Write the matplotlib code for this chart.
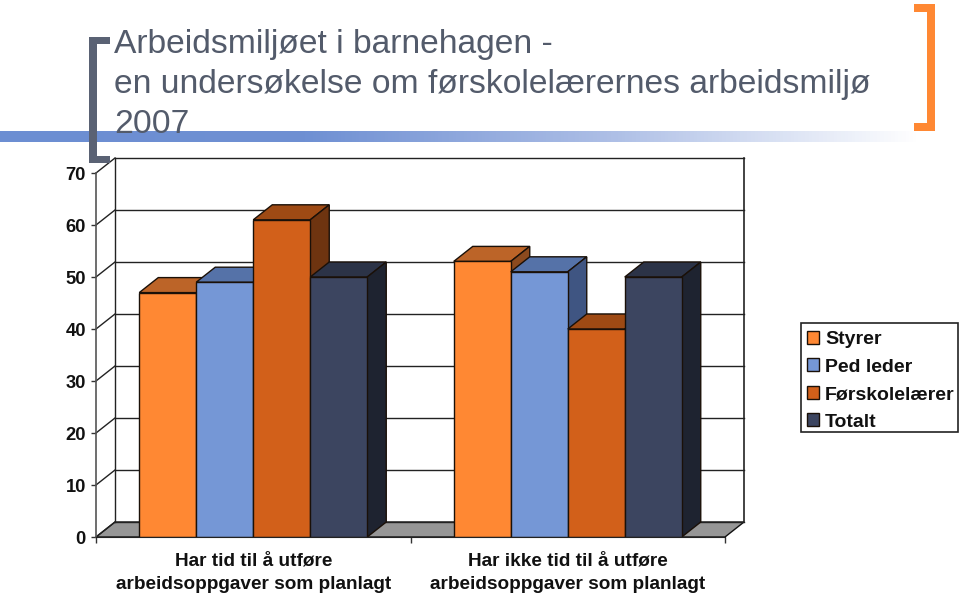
import matplotlib
matplotlib.use("Agg")
import matplotlib.pyplot as plt
from matplotlib.transforms import IdentityTransform
import numpy as np
from matplotlib.patches import Polygon, Rectangle
from matplotlib.colors import LinearSegmentedColormap

plt.rcParams['font.family'] = ['Liberation Sans', 'DejaVu Sans']

categories = ["Har tid til å utføre\narbeidsoppgaver som planlagt",
              "Har ikke tid til å utføre\narbeidsoppgaver som planlagt"]
series_names = ["Styrer", "Ped leder", "Førskolelærer", "Totalt"]
styrer = [47, 53]
ped_leder = [49, 51]
forskolelaerer = [61, 40]
totalt = [50, 50]
y_ticks = [0, 10, 20, 30, 40, 50, 60, 70]
title_text = "Arbeidsmiljøet i barnehagen -\nen undersøkelse om førskolelærernes arbeidsmiljø\n2007"

values = [styrer, ped_leder, forskolelaerer, totalt]
front = ["#FF8833", "#7597D6", "#D2601A", "#3C4560"]
top = ["#BC6428", "#5572A8", "#9E4A14", "#2C3347"]
side = ["#8C4A1E", "#3F5582", "#6E3410", "#1E2330"]
edge = "#1a1008"

W, H = 960, 596
fig = plt.figure(figsize=(W / 100, H / 100), dpi=100, facecolor="white")

# chart axes: front x-axis runs 96..725 px, y 537 px = 0, 5.2 px per unit
ax = fig.add_axes([96 / W, (H - 537) / H, 648 / W, 379 / H])
cat_px = 314.5
dx = 19 / cat_px
dy = 15 / 5.2
ax.set_xlim(0, 2 + dx)
ax.set_ylim(0, 70 + dy)
ax.patch.set_visible(False)

line_c = "#222222"
# floor
ax.add_patch(Polygon([(0, 0), (2, 0), (2 + dx, dy), (dx, dy)], closed=True,
                     facecolor="#969696", edgecolor="#111111", lw=1.0, zorder=1))
# back wall grid and side-wall diagonals
for v in y_ticks:
    ax.plot([dx, 2 + dx], [v + dy, v + dy], color=line_c, lw=1.0, zorder=1.5, clip_on=False)
    ax.plot([0, dx], [v, v + dy], color=line_c, lw=1.0, zorder=1.5, clip_on=False)
ax.plot([dx, dx], [dy, 70 + dy], color=line_c, lw=1.0, zorder=1.5, clip_on=False)
ax.plot([2 + dx, 2 + dx], [dy, 70 + dy], color=line_c, lw=1.2, zorder=1.5, clip_on=False)

# bars
w = 57.0 / cat_px
z = 3
handles = []
for i, name in enumerate(series_names):
    for c in range(2):
        v = values[i][c]
        x0 = c + 0.5 + (i - 2) * w
        x1 = x0 + w
        ax.add_patch(Polygon([(x0, v), (x1, v), (x1 + dx, v + dy), (x0 + dx, v + dy)], closed=True,
                             facecolor=top[i], edgecolor=edge, lw=1.0, zorder=z + i))
        ax.add_patch(Polygon([(x1, 0), (x1 + dx, dy), (x1 + dx, v + dy), (x1, v)], closed=True,
                             facecolor=side[i], edgecolor=edge, lw=1.0, zorder=z + i))
    b = ax.bar([c + 0.5 + (i - 1.5) * w for c in range(2)], values[i], width=w,
               color=front[i], edgecolor=edge, linewidth=1.0, zorder=z + i + 0.5, label=name)
    handles.append(b)

# axes, ticks, labels
for s in ("top", "right"):
    ax.spines[s].set_visible(False)
ax.spines["left"].set_bounds(0, 70)
ax.spines["bottom"].set_bounds(0, 2)
ax.spines["left"].set_color("#555555")
ax.spines["left"].set_linewidth(1.2)
ax.spines["bottom"].set_color("#222222")
ax.spines["bottom"].set_zorder(10)
ax.set_yticks(y_ticks)
ax.set_yticklabels([str(v) for v in y_ticks], fontsize=13.2, fontweight="bold", color="#111111")
ax.tick_params(axis="y", length=3.6, width=1.0, pad=3.6, color="#333333")
ax.set_xticks([0, 1, 2])
ax.set_xticklabels([])
ax.tick_params(axis="x", which="major", length=4.3, width=1.0, color="#333333")
ax.set_xticks([0.5, 1.5], minor=True)
ax.set_xticklabels(categories, minor=True, fontsize=13.7, fontweight="bold", color="#111111",
                   linespacing=1.45)
ax.tick_params(axis="x", which="minor", length=0, pad=11.5)

# legend (frame drawn separately below)
leg = ax.legend(handles=handles, labels=series_names, loc="upper left",
                bbox_to_anchor=(801, H - 325), bbox_transform=IdentityTransform(),
                prop={"size": 14, "weight": "bold"}, frameon=False,
                borderaxespad=0, borderpad=0.31,
                labelspacing=0.53, handlelength=0.62, handleheight=0.62, handletextpad=0.31)
leg.set_zorder(20)
for t in leg.get_texts():
    t.set_color("#111111")

# decoration overlay in pixel coordinates
ov = fig.add_axes([0, 0, 1, 1], zorder=5)
ov.axis("off")
ov.patch.set_visible(False)
cmap = LinearSegmentedColormap.from_list("band", ["#6C8ED2", "#6F90D3", "#AEBFE6", "#FFFFFF"])
ov.imshow(np.linspace(0, 1, 256)[None, :], extent=(0, 920, 142, 131), cmap=cmap, aspect="auto", zorder=1)
ov.set_xlim(0, W)
ov.set_ylim(H, 0)
ov.add_patch(Rectangle((801, 323), 157, 109, facecolor="none", edgecolor="#222222", lw=1.2, zorder=3))
lb = "#5A6274"
for r in [(89, 37, 8, 126), (89, 37, 21, 7), (89, 156, 21, 7)]:
    ov.add_patch(Rectangle((r[0], r[1]), r[2], r[3], facecolor=lb, edgecolor="none", zorder=3))
rb = "#FF8833"
for r in [(927, 4, 8, 127), (914, 4, 21, 8), (914, 123, 21, 8)]:
    ov.add_patch(Rectangle((r[0], r[1]), r[2], r[3], facecolor=rb, edgecolor="none", zorder=3))
ov.text(114, 29, title_text, fontsize=24.2, color="#535B6B", va="top", ha="left",
        linespacing=1.37, zorder=4)

fig.savefig("out.png", dpi=100)
